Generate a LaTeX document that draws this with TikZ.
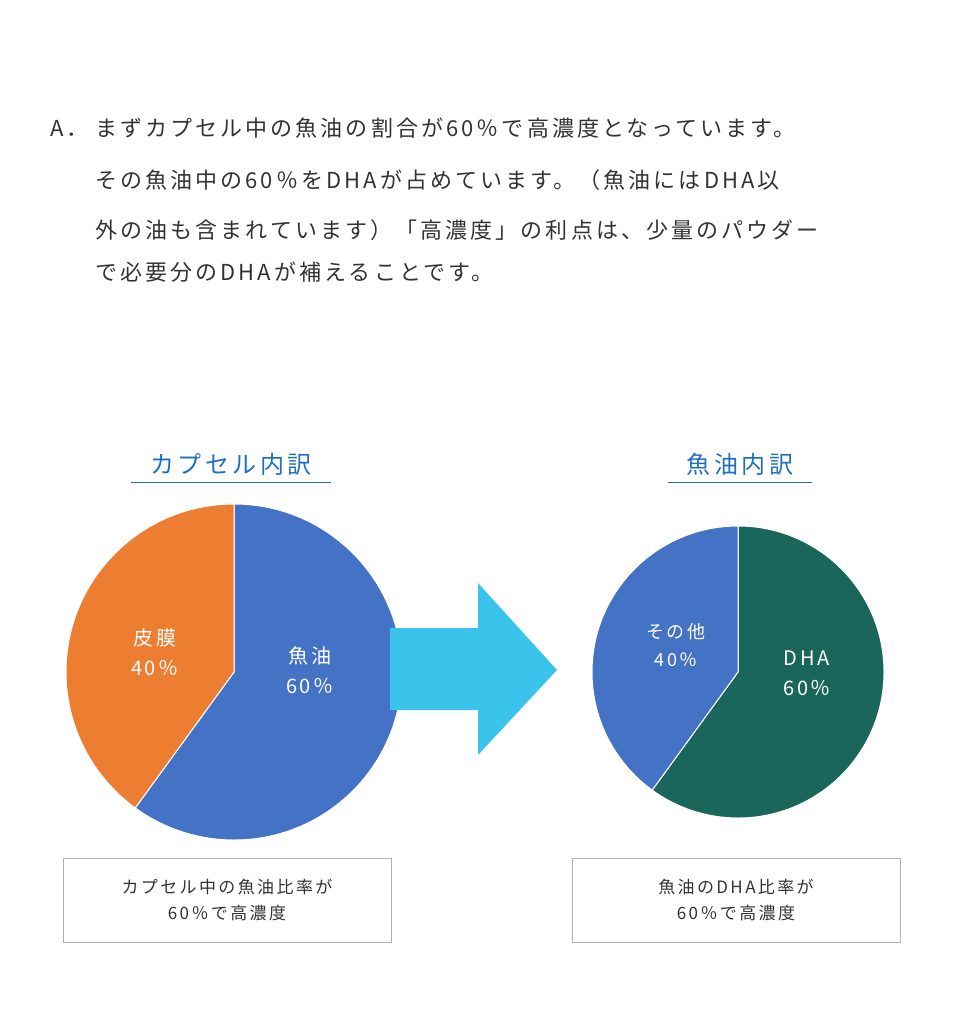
\documentclass[tikz,border=0pt]{standalone}
\usepackage{fontspec}
\setmainfont{Noto Sans CJK JP}[LetterSpace=14]
\definecolor{pblue}{HTML}{4472C4}
\definecolor{porange}{HTML}{ED7D31}
\definecolor{pgreen}{HTML}{1B665B}
\definecolor{parrow}{HTML}{3BC4EB}
\definecolor{ptitle}{HTML}{1F6FBF}
\definecolor{ptext}{HTML}{333333}
\begin{document}
\begin{tikzpicture}[x=1pt,y=-1pt,
  body/.style={anchor=west,inner sep=0pt,font=\fontsize{22}{22}\selectfont,text=ptext},
  ttl/.style={font=\fontsize{24}{24}\selectfont,text=ptitle,inner sep=2pt},
  lbl/.style={font=\fontsize{20}{20}\selectfont,text=white,align=center},
  capbox/.style={draw=black!30,line width=1pt,text=ptext,align=center,font=\fontsize{17}{26}\selectfont}]
\useasboundingbox (0,0) rectangle (964,1020);
\node[body] (a) at (50,128) {A．};
\node[body] (l1) at (95,128) {まずカプセル中の魚油の割合が60％で高濃度となっています。};
\node[body] (l2) at (95,180) {その魚油中の60％をDHAが占めています。（魚油にはDHA以};
\node[body] (l3) at (95,230) {外の油も含まれています）「高濃度」の利点は、少量のパウダー};
\node[body] (l4) at (95,272) {で必要分のDHAが補えることです。};
% titles
\node[ttl] (t1) at (231,464) {カプセル内訳};
\draw[ptitle,line width=1pt] (131,482) -- (331,482);
\node[ttl] (t2) at (740,464) {魚油内訳};
\draw[ptitle,line width=1pt] (668,482) -- (812,482);
% pie 1
\coordinate (c1) at (234,672);
\fill[pblue,draw=white,line width=1pt] (c1) -- (234,504) arc[start angle=-90,end angle=126,radius=168] -- cycle;
\fill[porange,draw=white,line width=1pt] (c1) -- ++(-126:168) coordinate(q) ;
\fill[porange,draw=white,line width=1pt] (c1) -- (234,504) arc[start angle=-90,end angle=-234,radius=168] -- cycle;
\node[lbl] (p1) at (310,670) {魚油\\[10pt]60％};
\node[lbl] (p2) at (155,652) {皮膜\\[10pt]40％};
% arrow
\fill[parrow] (390,628) -- (478,628) -- (478,583) -- (557,670) -- (478,755) -- (478,710) -- (390,710) -- cycle;
% pie 2
\coordinate (c2) at (738,672);
\fill[pgreen,draw=white,line width=1pt] (c2) -- (738,526) arc[start angle=-90,end angle=126,radius=146] -- cycle;
\fill[pblue,draw=white,line width=1pt] (c2) -- (738,526) arc[start angle=-90,end angle=-234,radius=146] -- cycle;
\node[lbl] (p3) at (807,673) {DHA\\[10pt]60％};
\node[lbl,font=\fontsize{18}{18}\selectfont] (p4) at (676,645) {その他\\[10pt]40％};
% boxes
\node[capbox,minimum width=328pt,minimum height=84pt] (b1) at (227,900) {カプセル中の魚油比率が\\60％で高濃度};
\node[capbox,minimum width=328pt,minimum height=84pt] (b2) at (736,900) {魚油のDHA比率が\\60％で高濃度};
\end{tikzpicture}
\end{document}
